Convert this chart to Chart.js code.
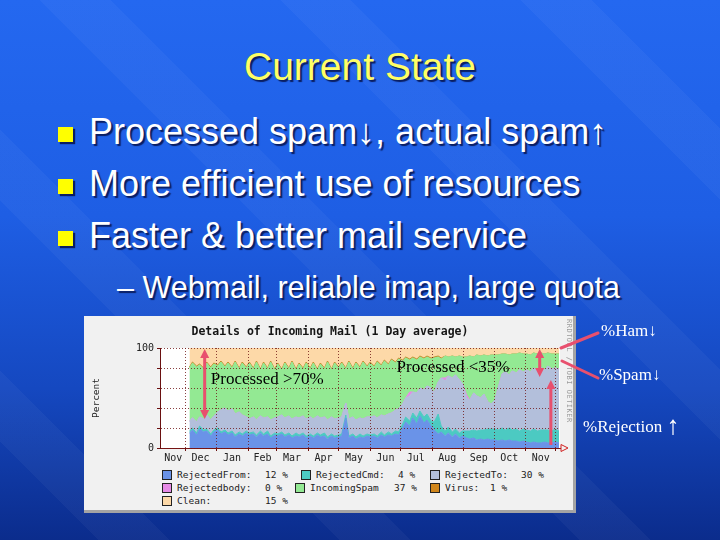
<!DOCTYPE html>
<html>
<head>
<meta charset="utf-8">
<script src="https://cdn.jsdelivr.net/npm/chart.js@4.4.1/dist/chart.umd.min.js"></script>
<style>
html, body { margin: 0; padding: 0; }
body {
    width: 720px; height: 540px; overflow: hidden; position: relative;
    font-family: "Liberation Sans", Arial, sans-serif;
    background: linear-gradient(to bottom, #2468f0 0%, #1e5ee4 40%, #1548c0 72%, #0b2c8c 100%);
}
.stripes {
    position: absolute; left: 0; top: 0; width: 720px; height: 540px;
    background: repeating-linear-gradient(45deg, rgba(255,255,255,0) 0 70px, rgba(255,255,255,0.035) 70px 120px, rgba(255,255,255,0) 120px 170px);
}
.title {
    position: absolute; left: 0; top: 47px; width: 720px; text-align: center;
    font-size: 39px; line-height: 39px; color: #ffff66;
    text-shadow: 2px 2px 1px #0a1e62;
}
.bullet {
    position: absolute; left: 89px; font-size: 36px; line-height: 40px; color: #fff;
    white-space: nowrap; text-shadow: 2px 2px 1px #0a1e62;
}
.sub { left: 117px; font-size: 30.5px; }
.sq {
    position: absolute; left: 58px; width: 15px; height: 15px; background: #ffff00;
    box-shadow: 2px 2px 1px #0a1e62;
}
.frame {
    position: absolute; left: 84px; top: 316px; width: 489px; height: 194px;
    background: #f1f1f1; border-right: 3px solid #a4a4a4; border-bottom: 3px solid #a4a4a4;
}
.frame canvas { position: absolute; left: 0; top: 0; }
.ctitle {
    position: absolute; left: 0; top: 8px; width: 492px; text-align: center;
    font: bold 11.5px "DejaVu Sans Mono", monospace; color: #151515;
}
.rrd {
    position: absolute; left: 481px; top: 3px; writing-mode: vertical-rl;
    font: 7px "DejaVu Sans Mono", monospace; color: #9a9a9a; letter-spacing: 0.5px;
}
.lg { position: absolute; font: 9.5px "DejaVu Sans Mono", monospace; color: #222; white-space: pre; line-height: 11px; }
.lbox { position: absolute; width: 8px; height: 8px; border: 1px solid #222; }
.note { position: absolute; color: #fff; font-family: "Liberation Serif", "Times New Roman", serif; font-size: 17px; white-space: nowrap; }
svg { position: absolute; left: 0; top: 0; }
</style>
</head>
<body>
<div class="stripes"></div>
<div class="title">Current State</div>
<div class="sq" style="top:127px"></div>
<div class="bullet" style="top:112px">Processed spam↓, actual spam↑</div>
<div class="sq" style="top:179px"></div>
<div class="bullet" style="top:164px">More efficient use of resources</div>
<div class="sq" style="top:231px"></div>
<div class="bullet" style="top:216px">Faster &amp; better mail service</div>
<div class="bullet sub" style="top:267px">– Webmail, reliable imap, large quota</div>

<div class="frame" id="frame">
    <canvas id="mailChart" width="492" height="150"></canvas>
    <div class="ctitle">Details of Incoming Mail (1 Day average)</div>
    <div class="rrd">RRDTOOL / TOBI OETIKER</div>
</div>

<svg width="720" height="540">
    <line x1="598" y1="333" x2="561" y2="348" stroke="#e8506e" stroke-width="3" stroke-linecap="round"/>
    <line x1="598" y1="378" x2="562" y2="361" stroke="#e8506e" stroke-width="3" stroke-linecap="round"/>
</svg>
<div class="note" style="left:601px; top:321px">%Ham↓</div>
<div class="note" style="left:599px; top:365px">%Spam↓</div>
<div class="note" style="left:583px; top:409px">%Rejection <span style="font-size:26px; position:relative; top:2px">↑</span></div>

<script>
// day offsets from Dec 1 (x positions of the samples)
const days = [4, 7, 11, 14, 18, 21, 25, 28, 32, 35,
    39, 42, 46, 49, 53, 56, 60, 63, 67, 70,
    74, 77, 81, 84, 88, 91, 95, 98, 102, 105,
    109, 112, 116, 119, 123, 126, 130, 133, 137, 140,
    144, 147, 151, 154, 158, 161, 165, 168, 172, 175,
    179, 182, 186, 189, 193, 196, 200, 203, 207, 210,
    214, 217, 221, 224, 228, 231, 235, 238, 242, 245,
    249, 252, 256, 259, 263, 266, 270, 273, 277, 280,
    284, 287, 291, 294, 298, 301, 305, 308, 312, 315,
    319, 322, 326, 329, 333, 336, 340, 343, 347, 350,
    354, 357, 361, 364, 368];

const rejectedFrom = [15, 18, 13, 19, 16, 17, 12, 16,
    18, 14, 16, 13, 15, 11, 14, 12, 15,
    13, 14, 11, 15, 12, 14, 10, 13,
    12, 14, 11, 13, 10, 12, 11, 13, 10,
    12, 10, 13, 11, 12, 9, 12, 10, 11,
    12, 30, 10, 12, 9, 11, 10, 12,
    11, 12, 10, 13, 11, 13, 12, 14, 13,
    20, 26, 22, 30, 24, 32, 25, 28, 22,
    18, 14, 16, 12, 15, 11, 14, 10, 12,
    10, 9, 10, 8, 9, 8, 9, 8,
    8, 7, 8, 7, 8, 7, 7, 6, 7,
    6, 5, 6, 5, 5, 6, 5, 5, 6, 5];

const rejectedCmd = [2, 2, 2, 3, 2, 2, 2, 2,
    2, 2, 2, 2, 2, 2, 2, 2, 2,
    2, 2, 2, 2, 2, 3, 2, 2,
    2, 2, 2, 2, 2, 3, 2, 2, 2,
    2, 2, 2, 2, 3, 2, 2, 2, 2,
    2, 3, 2, 2, 2, 3, 2, 2,
    2, 2, 2, 3, 2, 3, 2, 3, 3,
    4, 5, 5, 5, 6, 5, 6, 6, 5,
    8, 20, 6, 5, 6, 5, 5, 5, 5,
    7, 8, 8, 9, 9, 10, 10, 11,
    11, 11, 12, 11, 12, 11, 12, 11, 12,
    12, 12, 13, 12, 13, 12, 13, 12, 13, 12];

const rejectedTo = [10, 10, 11, 9, 11, 14, 14, 14,
    16, 22, 22, 22, 22, 21, 20, 19, 14,
    14, 15, 15, 15, 16, 14, 16, 15,
    17, 17, 17, 17, 17, 16, 17, 17, 17,
    17, 17, 17, 17, 16, 17, 17, 17, 17,
    17, 12, 17, 17, 17, 16, 17, 17,
    18, 18, 18, 17, 19, 18, 21, 21, 23,
    20, 19, 25, 21, 25, 23, 27, 28, 33,
    29, 32, 48, 50, 51, 54, 54, 53, 47,
    33, 31, 37, 35, 32, 36, 27, 25,
    29, 42, 54, 58, 53, 59, 56, 61, 57,
    60, 59, 61, 60, 63, 60, 64, 62, 61, 62];

const rejectedBody = [0, 0, 0, 0, 0, 0, 0, 0,
    0, 0, 0, 0, 0, 0, 0, 0, 0,
    0, 0, 0, 0, 0, 0, 0, 0,
    0, 0, 0, 0, 0, 0, 0, 0, 0,
    0, 0, 0, 0, 0, 0, 0, 0, 0,
    0, 0, 0, 0, 0, 0, 0, 0,
    0, 0, 0, 0, 0, 0, 0, 0, 0,
    0, 0, 4, 0, 0, 0, 0, 0, 0,
    0, 0, 0, 3, 0, 0, 0, 0, 0,
    3, 0, 0, 0, 0, 0, 0, 0,
    0, 0, 0, 0, 0, 0, 0, 0, 0,
    0, 0, 0, 0, 0, 0, 0, 0, 0, 0];

const incomingSpam = [53, 55, 55, 52, 50, 52, 52, 52,
    46, 48, 41, 48, 41, 52, 43, 52, 49,
    56, 48, 58, 46, 55, 48, 58, 48,
    53, 45, 55, 47, 57, 47, 54, 47, 56,
    48, 56, 46, 54, 48, 58, 47, 56, 50,
    54, 34, 57, 48, 57, 50, 57, 50,
    54, 49, 56, 49, 55, 49, 53, 47, 50,
    43, 40, 32, 34, 33, 31, 31, 29, 29,
    35, 25, 19, 22, 19, 22, 18, 24, 27,
    38, 44, 36, 41, 42, 39, 46, 49,
    45, 33, 20, 18, 20, 17, 19, 17, 18,
    16, 17, 15, 17, 14, 16, 13, 15, 14, 15];

const virus = [1, 1, 1, 1, 1, 1, 1, 1,
    1, 1, 1, 1, 1, 1, 1, 1, 1,
    1, 1, 1, 1, 1, 1, 1, 1,
    1, 1, 1, 1, 1, 1, 1, 1, 1,
    1, 1, 1, 1, 1, 1, 1, 1, 1,
    1, 1, 1, 1, 1, 1, 1, 1,
    1, 1, 1, 1, 1, 1, 1, 1, 1,
    1, 1, 1, 1, 1, 1, 1, 1, 1,
    1, 1, 1, 0, 0, 0, 0, 0, 0,
    0, 0, 0, 0, 0, 0, 0, 0,
    0, 0, 0, 0, 0, 0, 0, 0, 0,
    0, 0, 0, 0, 0, 0, 0, 0, 0, 0];

const clean = [19, 14, 18, 16, 20, 14, 19, 15,
    17, 13, 18, 14, 19, 13, 20, 14, 19,
    14, 20, 13, 21, 14, 20, 13, 21,
    15, 21, 14, 20, 13, 21, 15, 20, 14,
    20, 14, 21, 15, 20, 13, 21, 14, 19,
    14, 20, 13, 20, 14, 19, 13, 18,
    14, 18, 13, 17, 12, 16, 11, 14, 10,
    12, 9, 11, 9, 11, 8, 10, 8, 10,
    9, 8, 10, 8, 9, 8, 9, 8, 9,
    9, 8, 9, 7, 8, 7, 8, 7,
    7, 7, 6, 6, 7, 6, 6, 5, 6,
    6, 7, 5, 6, 5, 6, 5, 6, 6, 6];

const monthStarts = [0, 31, 62, 90, 121, 151, 182, 212, 243, 274, 304, 335, 365];
const monthMids = [-12, 15, 46, 76, 105, 136, 166, 197, 227, 258, 289, 319, 350];
const monthNames = ['Nov', 'Dec', 'Jan', 'Feb', 'Mar', 'Apr', 'May', 'Jun', 'Jul', 'Aug', 'Sep', 'Oct', 'Nov'];

const seriesNames = ['RejectedFrom', 'RejectedCmd', 'RejectedTo', 'Rejectedbody', 'IncomingSpam', 'Virus', 'Clean'];
const seriesColors = ['#6a93e8', '#4ccac2', '#b3bfdb', '#e68ae6', '#93e993', '#d0861c', '#fdd9a8'];
const legendPercents = [12, 4, 30, 0, 37, 1, 15];

// annotation arrows: [day, fromPct, toPct, headAtBottom, headAtTop]
const arrows = [[19, 29, 99, true, true], [349, 71, 99, true, true], [360, 3, 68, false, true]];
const notes = [['Processed >70%', 25, 68], ['Processed <35%', 208, 80]];

const seriesValues = [rejectedFrom, rejectedCmd, rejectedTo, rejectedBody, incomingSpam, virus, clean];
const gridColor = 'rgba(110, 20, 20, 0.8)';
const mono = '"DejaVu Sans Mono", monospace';

const datasets = seriesValues.map((vals, i) => ({
    label: seriesNames[i],
    data: vals.map((v, k) => ({ x: days[k], y: v })),
    backgroundColor: seriesColors[i],
    borderColor: i === 5 ? '#c09030' : seriesColors[i],
    borderWidth: 1,
    fill: i === 0 ? 'origin' : '-1',
    pointRadius: 0,
    tension: 0,
}));

const plotBg = {
    id: 'plotBg',
    beforeDraw(chart) {
        const a = chart.chartArea;
        const ctx = chart.ctx;
        ctx.save();
        ctx.fillStyle = '#ffffff';
        ctx.fillRect(a.left, a.top, a.right - a.left, a.bottom - a.top);
        ctx.restore();
    },
};

function head(ctx, x, y, dir) {
    ctx.beginPath();
    ctx.moveTo(x, y);
    ctx.lineTo(x - 4.5, y + dir * 9);
    ctx.lineTo(x + 4.5, y + dir * 9);
    ctx.closePath();
    ctx.fill();
}

const marks = {
    id: 'marks',
    afterDraw(chart) {
        const ctx = chart.ctx;
        const xs = chart.scales.x;
        const ys = chart.scales.y;
        const a = chart.chartArea;
        ctx.save();
        // rrd axis arrow
        ctx.strokeStyle = '#d02020';
        ctx.lineWidth = 1;
        ctx.beginPath();
        ctx.moveTo(a.right + 1, a.bottom - 3.5);
        ctx.lineTo(a.right + 8, a.bottom);
        ctx.lineTo(a.right + 1, a.bottom + 3.5);
        ctx.closePath();
        ctx.stroke();

        ctx.strokeStyle = '#e8506e';
        ctx.fillStyle = '#e8506e';
        ctx.lineWidth = 3;
        arrows.forEach(([d, lo, hi, hb, ht]) => {
            const x = xs.getPixelForValue(d);
            const y1 = ys.getPixelForValue(lo);
            const y2 = ys.getPixelForValue(hi);
            ctx.beginPath();
            ctx.moveTo(x, y1 - (hb ? 6 : 0));
            ctx.lineTo(x, y2 + (ht ? 6 : 0));
            ctx.stroke();
            if (hb) head(ctx, x, y1, -1);
            if (ht) head(ctx, x, y2, 1);
        });

        ctx.fillStyle = '#000';
        ctx.font = '17px "Liberation Serif", serif';
        ctx.textBaseline = 'middle';
        notes.forEach(([t, d, p]) => {
            ctx.fillText(t, xs.getPixelForValue(d), ys.getPixelForValue(p));
        });
        ctx.restore();
    },
};

new Chart(document.getElementById('mailChart'), {
    type: 'line',
    data: { datasets },
    options: {
        responsive: false,
        animation: false,
        layout: { padding: { left: 3, right: 16, top: 32, bottom: 0 } },
        plugins: { legend: { display: false }, tooltip: { enabled: false } },
        scales: {
            x: {
                type: 'linear', min: -25, max: 369,
                afterBuildTicks: s => {
                    s.ticks = monthStarts.concat(monthMids).sort((p, q) => p - q).map(v => ({ value: v }));
                },
                afterFit: s => { s.height = 18; },
                ticks: {
                    autoSkip: false, maxRotation: 0, padding: 1,
                    font: { family: mono, size: 10 }, color: '#222',
                    callback: v => {
                        const i = monthMids.indexOf(v);
                        return i >= 0 ? monthNames[i] : '';
                    },
                },
                grid: {
                    z: 1,
                    color: c => (c.tick && monthStarts.includes(c.tick.value)) ? gridColor : 'rgba(0,0,0,0)',
                    tickColor: c => (c.tick && monthStarts.includes(c.tick.value)) ? '#6a1010' : 'rgba(0,0,0,0)',
                    tickLength: 3,
                },
                border: { z: 1, color: '#7a1414', width: 1, dash: [1, 2] },
            },
            y: {
                stacked: true, min: 0, max: 100,
                afterFit: s => { s.width = 73; },
                ticks: {
                    stepSize: 10, padding: 3,
                    font: { family: mono, size: 10 }, color: '#222',
                    callback: v => (v % 50 === 0 ? v : ''),
                },
                grid: { z: 1, color: gridColor, tickColor: '#6a1010', tickLength: 3 },
                border: { z: 1, color: '#6a1010', width: 1, dash: [1, 2] },
                title: {
                    display: true, text: 'Percent', color: '#222',
                    font: { family: mono, size: 9.5 }, padding: { top: 4, bottom: 0 },
                },
            },
        },
    },
    plugins: [plotBg, marks],
});

// rrd style legend
const frame = document.getElementById('frame');
const legendSlots = [[78, 159, 181], [217, 159, 314], [346, 159, 437],
    [78, 172, 181], [211, 172, 310], [346, 172, 406], [78, 185, 181]];
seriesNames.forEach((nm, s) => {
    const [bx, cy, vx] = legendSlots[s];
    const box = document.createElement('div');
    box.className = 'lbox';
    box.style.left = bx + 'px';
    box.style.top = (cy - 5) + 'px';
    box.style.background = seriesColors[s];
    frame.appendChild(box);
    const name = document.createElement('div');
    name.className = 'lg';
    name.style.left = (bx + 15) + 'px';
    name.style.top = (cy - 6) + 'px';
    name.textContent = nm + (s === 4 ? '' : ':');
    frame.appendChild(name);
    const val = document.createElement('div');
    val.className = 'lg';
    val.style.left = vx + 'px';
    val.style.top = (cy - 6) + 'px';
    val.textContent = legendPercents[s] + ' %';
    frame.appendChild(val);
});
</script>
</body>
</html>
